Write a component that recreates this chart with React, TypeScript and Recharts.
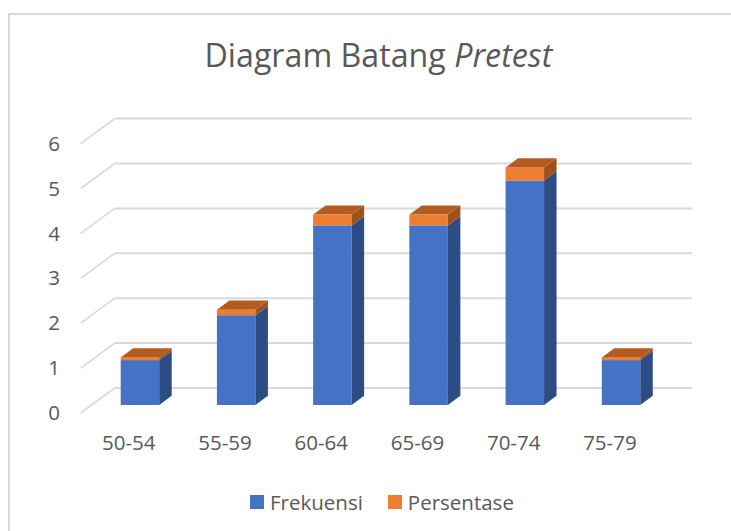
import React from 'react';
import { BarChart, Bar, XAxis, YAxis, CartesianGrid, Legend } from 'recharts';

const categories = ['50-54', '55-59', '60-64', '65-69', '70-74', '75-79'];
const frekuensi = [1, 2, 4, 4, 5, 1];
const persentase = [0.06, 0.12, 0.24, 0.24, 0.29, 0.06];
const yTicks = [0, 1, 2, 3, 4, 5, 6];

const data = categories.map((c, i) => ({ name: c, Frekuensi: frekuensi[i], Persentase: persentase[i] }));

const FONT = '"Open Sans", "Noto Sans", sans-serif';
const TEXT = '#595959';
const GRID = '#d9d9d9';

// floor depth offset (front -> back wall)
const DX = 34;
const DY = -25;
// bar front face offset from floor front, and bar depth
const BX = 11;
const BY = -8;
const BDX = 12.5;
const BDY = -9.2;

const makeShape = (front: string, side: string, top: string | null) => (props: any) => {
  const { x, y, width, height } = props;
  if (width == null || height == null) return <g />;
  const fx = x + BX;
  const fy = y + BY;
  const h = height;
  return (
    <g>
      <rect x={fx} y={fy} width={width} height={h} fill={front} />
      <polygon
        points={`${fx + width},${fy} ${fx + width + BDX},${fy + BDY} ${fx + width + BDX},${fy + BDY + h} ${fx + width},${fy + h}`}
        fill={side}
      />
      {top && (
        <polygon
          points={`${fx},${fy} ${fx + BDX},${fy + BDY} ${fx + width + BDX},${fy + BDY} ${fx + width},${fy}`}
          fill={top}
        />
      )}
    </g>
  );
};

const blueShape = makeShape('#4472C4', '#2C4C84', null);
const orangeShape = makeShape('#ED7D31', '#9E501D', '#B35B21');

const gridLine = (p: any) => {
  const { x1, x2, y1, key } = p;
  return (
    <g key={key}>
      <line x1={x1} y1={y1} x2={x1 + DX} y2={y1 + DY} stroke={GRID} strokeWidth={1.6} />
      <line x1={x1 + DX} y1={y1 + DY} x2={x2 + DX} y2={y1 + DY} stroke={GRID} strokeWidth={2} />
    </g>
  );
};

const YTick = (p: any) => (
  <text x={54} y={p.y} dy="0.35em" textAnchor="middle" fill={TEXT} fontSize={20.5} fontFamily={FONT}>
    {p.payload.value}
  </text>
);

const XTick = (p: any) => (
  <text x={p.x} y={443} dy="0.35em" textAnchor="middle" fill={TEXT} fontSize={20.5} fontFamily={FONT}>
    {p.payload.value}
  </text>
);

const LegendContent = () => (
  <div style={{ display: 'flex', alignItems: 'center', fontFamily: FONT, fontSize: 20.5, color: TEXT, whiteSpace: 'nowrap' }}>
    <span style={{ width: 14, height: 14, background: '#4472C4', display: 'inline-block', marginRight: 6 }} />
    <span>Frekuensi</span>
    <span style={{ width: 14, height: 14, background: '#ED7D31', display: 'inline-block', marginLeft: 25, marginRight: 6 }} />
    <span>Persentase</span>
  </div>
);

export default function App() {
  return (
    <div style={{ position: 'fixed', left: 0, top: 0, width: 731, height: 531, overflow: 'hidden', background: '#fff' }}>
      <div
        style={{
          position: 'absolute',
          left: 8,
          top: 13,
          width: 760,
          height: 560,
          border: `2px solid ${GRID}`,
          boxSizing: 'border-box',
        }}
      />
      <svg width={731} height={100} style={{ position: 'absolute', left: 0, top: 0 }}>
        <text x={378.4} y={67} textAnchor="middle" fill={TEXT} fontSize={32.2} fontFamily={FONT}>
          Diagram Batang <tspan fontStyle="italic">Pretest</tspan>
        </text>
      </svg>
      <div style={{ position: 'absolute', left: 0, top: 0 }}>
        <BarChart
          width={731}
          height={531}
          data={data}
          margin={{ top: 143.6, right: 73, bottom: 78, left: 0 }}
          barSize={38.5}
        >
          <CartesianGrid vertical={false} horizontal={gridLine} />
          <XAxis dataKey="name" axisLine={false} tickLine={false} height={40} tick={XTick} interval={0} />
          <YAxis
            width={80.7}
            domain={[0, 6]}
            ticks={yTicks}
            axisLine={false}
            tickLine={false}
            tick={YTick}
            interval={0}
          />
          <Legend
            layout="horizontal"
            verticalAlign="middle"
            align="center"
            wrapperStyle={{ position: 'absolute', left: 250, top: 488, width: 'auto' }}
            content={LegendContent}
          />
          <Bar dataKey="Frekuensi" stackId="a" shape={blueShape} isAnimationActive={false} />
          <Bar dataKey="Persentase" stackId="a" shape={orangeShape} isAnimationActive={false} />
        </BarChart>
      </div>
    </div>
  );
}
